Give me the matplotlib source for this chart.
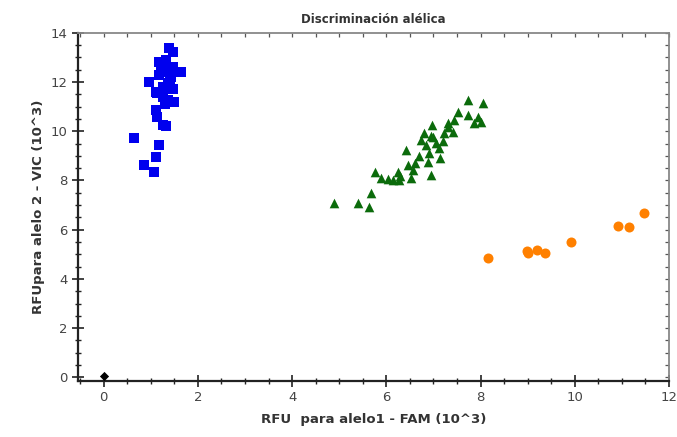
import matplotlib
matplotlib.use("Agg")
import matplotlib.pyplot as plt
from matplotlib.ticker import MultipleLocator, NullFormatter

# Allele 2 homozygotes (blue squares)
blue_x = [1.38, 1.46, 1.21, 1.32, 1.17, 1.27, 1.46, 1.21, 1.17, 1.63, 0.96, 1.42,
          1.36, 1.25, 1.46, 1.14, 1.10, 1.25, 1.36, 1.49, 1.10, 1.14, 1.32, 1.25,
          0.64, 1.17, 1.10, 0.85, 1.06, 1.40, 1.30]
blue_y = [13.4, 13.2, 12.8, 12.9, 12.8, 12.6, 12.6, 12.4, 12.3, 12.4, 12.0, 12.2,
          11.95, 11.8, 11.7, 11.56, 11.6, 11.4, 11.27, 11.2, 10.87, 10.58, 10.2, 10.26,
          9.73, 9.44, 8.95, 8.63, 8.34, 12.0, 11.1]

# Heterozygotes (green triangles)
green_x = [4.88, 5.39, 5.63, 5.67, 5.77, 5.88, 6.03, 6.14, 6.26, 6.24, 6.41, 6.45,
           6.56, 6.52, 6.73, 6.79, 6.84, 6.88, 6.94, 6.90, 6.98, 7.00, 7.05, 7.11,
           7.15, 7.22, 7.30, 7.32, 7.41, 7.43, 7.52, 7.73, 8.05, 7.73, 7.94, 8.00,
           7.86, 6.30, 6.70, 7.20, 6.60, 6.95]
green_y = [7.08, 7.08, 6.92, 7.49, 8.34, 8.10, 8.06, 8.00, 8.00, 8.34, 9.24, 8.63,
           8.42, 8.10, 9.65, 9.93, 9.44, 8.75, 8.22, 9.12, 10.26, 9.77, 9.52, 9.32,
           8.91, 9.93, 10.18, 10.34, 9.97, 10.46, 10.79, 11.27, 11.15, 10.66, 10.58, 10.38,
           10.34, 8.20, 9.00, 9.60, 8.70, 9.80]

# Allele 1 homozygotes (orange circles)
orange_x = [8.15, 9.00, 8.98, 9.21, 9.38, 9.92, 10.93, 11.15, 11.47]
orange_y = [4.84, 5.04, 5.12, 5.17, 5.05, 5.50, 6.15, 6.10, 6.67]

# No template control (black diamond)
ntc_x = [0.0]
ntc_y = [0.05]

fig = plt.figure(figsize=(6.77, 4.37), dpi=100)
ax = fig.add_axes([0.115, 0.128, 0.873, 0.797])

ax.scatter(blue_x, blue_y, marker='s', s=58, color='#0000ee', zorder=3, linewidths=0)
ax.scatter(green_x, green_y, marker='^', s=48, color='#0b6b0b', zorder=3, linewidths=0)
ax.scatter(orange_x, orange_y, marker='o', s=52, color='#ff8000', zorder=3, linewidths=0)
ax.scatter(ntc_x, ntc_y, marker='D', s=22, color='black', zorder=4, linewidths=0)

ax.set_xlim(-0.55, 12)
ax.set_ylim(-0.15, 14)

ax.xaxis.set_major_locator(MultipleLocator(2))
ax.xaxis.set_minor_locator(MultipleLocator(0.5))
ax.yaxis.set_major_locator(MultipleLocator(2))
ax.yaxis.set_minor_locator(MultipleLocator(0.5))

ax.tick_params(axis='both', which='both', direction='inout',
               color='#222222', labelcolor='#444444', labelsize=9.5)
ax.tick_params(axis='both', which='major', length=8, width=1.2)
ax.tick_params(axis='both', which='minor', length=5, width=1.0)

# top and right: short inward ticks, no labels
top = ax.secondary_xaxis('top')
top.xaxis.set_major_locator(MultipleLocator(0.5))
top.xaxis.set_major_formatter(NullFormatter())
top.tick_params(direction='in', length=3, width=0.9, color='#555555')
top.spines['top'].set_visible(False)
right = ax.secondary_yaxis('right')
right.yaxis.set_major_locator(MultipleLocator(0.5))
right.yaxis.set_major_formatter(NullFormatter())
right.tick_params(direction='in', length=3, width=0.9, color='#555555')
right.spines['right'].set_visible(False)

for side in ['left', 'bottom']:
    ax.spines[side].set_linewidth(1.6)
    ax.spines[side].set_color('#222222')
for side in ['top', 'right']:
    ax.spines[side].set_linewidth(1.3)
    ax.spines[side].set_color('#888888')

ax.set_title('Discriminación alélica', fontsize=8.5, fontweight='bold', color='#333333', pad=7)
ax.set_xlabel('RFU  para alelo1 - FAM (10^3)', fontsize=9.5, fontweight='bold', color='#333333', labelpad=6)
ax.set_ylabel('RFUpara alelo 2 - VIC (10^3)', fontsize=9.5, fontweight='bold', color='#333333')

fig.savefig('out.png', dpi=100)
